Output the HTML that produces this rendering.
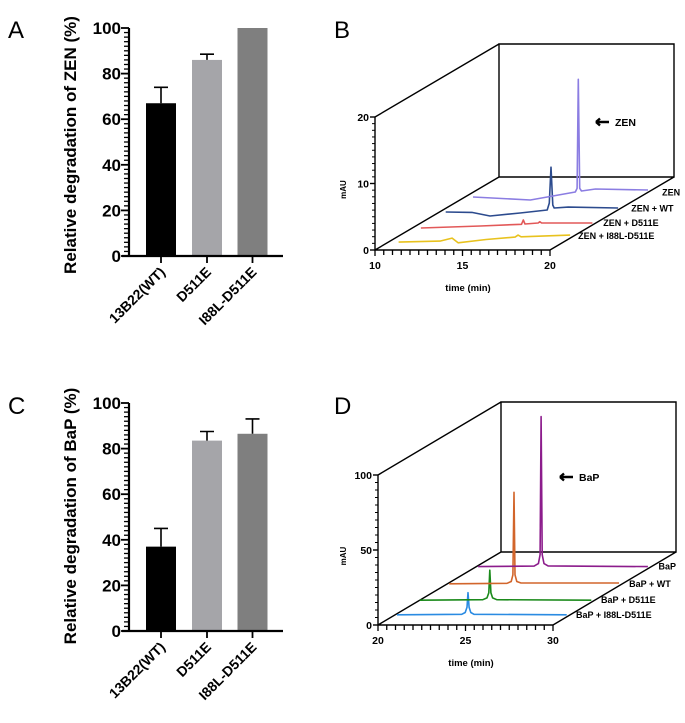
<!DOCTYPE html>
<html><head><meta charset="utf-8"><style>
html,body{margin:0;padding:0;background:#fff;}
svg{display:block;font-family:"Liberation Sans",Arial,sans-serif;}
</style></head><body>
<svg id="fig" width="685" height="723" viewBox="0 0 685 723" xmlns="http://www.w3.org/2000/svg">
<text x="8" y="38" font-size="24">A</text>
<text x="334" y="38" font-size="24">B</text>
<text x="8" y="414" font-size="24">C</text>
<text x="334" y="414" font-size="24">D</text>
</svg>
<script>
// Bar chart data
const catsA = ["13B22(WT)", "D511E", "I88L-D511E"];
const valsA = [67, 86, 100];
const errsA = [7, 2.5, 0];
const catsC = ["13B22(WT)", "D511E", "I88L-D511E"];
const valsC = [37, 83.5, 86.5];
const errsC = [8, 4, 6.5];
const barTicks = [0, 20, 40, 60, 80, 100];

// Chromatogram B data (time in min, value in mAU)
const seriesNamesB = ["ZEN + I88L-D511E", "ZEN + D511E", "ZEN + WT", "ZEN"];
const tYellowB = [10, 12.37, 13.06, 13.4, 15.0, 16.66, 16.83, 17.0, 19.8];
const vYellowB = [-0.9, -0.75, -0.3, -1.0, -0.5, -0.15, 0.15, -0.1, 0.15];
const tRedB = [10, 13.4, 15.75, 15.85, 15.95, 16.7, 16.8, 16.9, 19.8];
const vRedB = [-0.75, -0.45, -0.2, 0.45, -0.15, 0.0, 0.2, 0.0, 0.0];
const tBlueB = [10, 11.5, 12.53, 14.25, 15.8, 15.92, 16.02, 16.12, 16.2, 17.0, 19.85];
const vBlueB = [-0.54, -0.6, -1.14, -0.7, -0.24, 0.8, 6.2, 0.5, 0.06, 0.2, 0.06];
const tPurpleB = [10, 13.28, 15.85, 15.95, 16.02, 16.1, 16.2, 17.0, 20];
const vPurpleB = [-0.7, -1.16, 0.05, 0.6, 17.0, 0.6, 0.2, 0.5, 0.35];

// Chromatogram D data
const seriesNamesD = ["BaP + I88L-D511E", "BaP + D511E", "BaP + WT", "BaP"];
const tBlueD = [20.1, 23.8, 24.0, 24.1, 24.16, 24.22, 24.32, 24.5, 29.8];
const vBlueD = [0, 0.3, 1.5, 5, 14.7, 5, 1.5, 0.3, 0];
const tGreenD = [20, 23.6, 23.84, 23.94, 24.0, 24.06, 24.16, 24.4, 29.8];
const vGreenD = [0, 0.3, 1.5, 5, 20, 5, 1.5, 0.3, 0];
const tOrangeD = [20.1, 23.4, 23.64, 23.74, 23.8, 23.86, 23.96, 24.2, 29.8];
const vOrangeD = [0, 0.3, 1.5, 6, 61, 6, 1.5, 0.5, 0.5];
const tPurpleD = [20.1, 23.3, 23.54, 23.64, 23.7, 23.76, 23.86, 24.1, 29.8];
const vPurpleD = [0, 0.3, 2, 8, 100, 8, 2, 0.5, 0];

const NS = "http://www.w3.org/2000/svg";
const svg = document.getElementById("fig");
function mk(tag, attrs, parent) {
  const e = document.createElementNS(NS, tag);
  for (const k in attrs) e.setAttribute(k, attrs[k]);
  (parent || svg).appendChild(e);
  return e;
}

function barChart(cfg, cats, vals, errs, colors) {
  const g = mk("g", {});
  
  
  const y = v => cfg.y0 - (v / 100) * (cfg.y0 - cfg.y100);
  const ax = 129;
  const centers = [161, 207, 252.5];
  cats.forEach((c, i) => {
    const cx = centers[i];
    const r = mk("rect", {x: cx - 15, y: y(vals[i]), width: 30, height: y(0) - y(vals[i]), fill: colors[i]}, g);
    
    
    if (errs[i] > 0) {
      const e = mk("path", {d: `M${cx} ${y(vals[i])}V${y(vals[i] + errs[i])}M${cx - 7} ${y(vals[i] + errs[i])}H${cx + 7}`, stroke: "#000", "stroke-width": 1.6, fill: "none"}, g);
      
      
    }
    const tk = mk("line", {x1: cx, x2: cx, y1: y(0), y2: y(0) + 7, stroke: "#000", "stroke-width": 1.8}, g);
    
    
    const t = mk("text", {x: 0, y: 0, "font-size": 14, "font-weight": "bold", "text-anchor": "end", transform: `translate(${cx + 5},${y(0) + 17}) rotate(-45)`}, g);
    t.textContent = c;
    
    
  });
  const axl = mk("path", {d: `M${ax} ${y(100)}V${y(0)}M122 ${y(0)}H283`, stroke: "#000", "stroke-width": 2.2, fill: "none"}, g);
  
  
  for (let v = 0; v <= 100; v += 2) {
    const major = v % 20 === 0;
    mk("line", {x1: ax - (major ? 8 : 5), x2: ax, y1: y(v), y2: y(v), stroke: "#000", "stroke-width": major ? 1.8 : 1.3}, g);
  }
  barTicks.forEach(v => {
    const t = mk("text", {x: 121, y: y(v) + 6, "font-size": 17, "font-weight": "bold", "text-anchor": "end"}, g);
    t.textContent = v;
    
    
  });
  const tt = mk("text", {x: 0, y: 0, "font-size": 17, "font-weight": "bold", "text-anchor": "middle", transform: `translate(76,${cfg.titleY}) rotate(-90)`}, g);
  tt.textContent = cfg.title;
  
  
}

barChart({name: "bar-chart-zen", y0: 256, y100: 28, title: "Relative degradation of ZEN (%)", titleY: 145}, catsA, valsA, errsA, ["#000", "#a5a5a9", "#7f7f7f"]);
barChart({name: "bar-chart-bap", y0: 631, y100: 403, title: "Relative degradation of BaP (%)", titleY: 516}, catsC, valsC, errsC, ["#000", "#a5a5a9", "#7f7f7f"]);

function chrom(cfg, series) {
  const g = mk("g", {});
  
  
  const x = t => cfg.x0 + (t - cfg.tmin) / (cfg.tmax - cfg.tmin) * (cfg.x1 - cfg.x0);
  const y = v => cfg.y0 - v / cfg.vmax * (cfg.y0 - cfg.ytop);
  const DX = cfg.dx, DY = cfg.dy;
  const fr = mk("path", {d: `M${cfg.x0} ${cfg.ytop}V${cfg.y0}H${cfg.x1}` +
    `M${cfg.x0} ${cfg.ytop}L${cfg.x0 + DX} ${cfg.ytop - DY}M${cfg.x0} ${cfg.y0}L${cfg.x0 + DX} ${cfg.y0 - DY}M${cfg.x1} ${cfg.y0}L${cfg.x1 + DX} ${cfg.y0 - DY}` +
    `M${cfg.x0 + DX} ${cfg.ytop - DY}H${cfg.x1 + DX}V${cfg.y0 - DY}H${cfg.x0 + DX}Z`, stroke: "#000", "stroke-width": 1.4, fill: "none"}, g);
  
  
  for (let v = 0; v <= cfg.vmax + 1e-9; v += cfg.vminor) {
    const major = Math.abs(v / cfg.vmajor - Math.round(v / cfg.vmajor)) < 1e-6;
    mk("line", {x1: cfg.x0 - (major ? 5 : 3), x2: cfg.x0, y1: y(v), y2: y(v), stroke: "#000", "stroke-width": major ? 1.4 : 1}, g);
    if (major) {
      const t = mk("text", {x: cfg.x0 - 6, y: y(v) + 4, "font-size": 10.5, "font-weight": "bold", "text-anchor": "end"}, g);
      t.textContent = Math.round(v);
      
      
    }
  }
  for (let t = cfg.tmin; t <= cfg.tmax + 1e-9; t += 0.5) {
    const major = Math.abs(t % 5) < 1e-6;
    mk("line", {x1: x(t), x2: x(t), y1: cfg.y0, y2: cfg.y0 + (major ? 6 : 5), stroke: "#000", "stroke-width": 1.3}, g);
    if (major) {
      const l = mk("text", {x: x(t), y: cfg.y0 + 19, "font-size": 10.5, "font-weight": "bold", "text-anchor": "middle"}, g);
      l.textContent = Math.round(t);
      
      
    }
  }
  const xt = mk("text", {x: cfg.x0 + 93, y: cfg.y0 + 41, "font-size": 9.5, "font-weight": "bold", "text-anchor": "middle"}, g);
  xt.textContent = "time (min)";
  
  
  const yt = mk("text", {x: 0, y: 0, "font-size": 8, "font-weight": "bold", "text-anchor": "middle", transform: `translate(346,${(cfg.y0 + cfg.ytop) / 2 + 6}) rotate(-90)`}, g);
  yt.textContent = "mAU";
  
  
  series.forEach(s => {
    const ox = s.k * DX, oy = s.k * DY;
    const d = s.t.map((t, i) => (i ? "L" : "M") + (x(t) + ox).toFixed(1) + " " + (y(s.v[i]) - oy).toFixed(1)).join("");
    const p = mk("path", {d, stroke: s.color, "stroke-width": 1.6, fill: "none", "stroke-linejoin": "round"}, g);
    
    
    const lb = mk("text", {x: x(cfg.tmax) + ox + cfg.lblOff + s.k * cfg.lblK, y: cfg.y0 - oy + 3, "font-size": 9, "font-weight": "bold"}, g);
    lb.textContent = s.label;
    
    
  });
  const ar = mk("path", {d: `M${cfg.ax} ${cfg.ay}h13M${cfg.ax} ${cfg.ay}l4 -3.5M${cfg.ax} ${cfg.ay}l4 3.5`, stroke: "#000", "stroke-width": 2.4, fill: "none"}, g);
  
  
  const at = mk("text", {x: cfg.ax + 19, y: cfg.ay + 4, "font-size": 10.5, "font-weight": "bold"}, g);
  at.textContent = cfg.arrowLabel;
  
  
}

chrom({name: "chromatogram-zen", x0: 375, x1: 550, y0: 250, ytop: 117, tmin: 10, tmax: 20, vmax: 20, vmajor: 10, vminor: 1, dx: 124, dy: 73, ax: 596, ay: 122, arrowLabel: "ZEN", lblOff: 1.5, lblK: 16}, [
  {label: seriesNamesB[0], t: tYellowB, v: vYellowB, color: "#e8c21e", k: 0.19},
  {label: seriesNamesB[1], t: tRedB, v: vRedB, color: "#e25858", k: 0.37},
  {label: seriesNamesB[2], t: tBlueB, v: vBlueB, color: "#2c4b8e", k: 0.57},
  {label: seriesNamesB[3], t: tPurpleB, v: vPurpleB, color: "#8b7de2", k: 0.79}
]);
chrom({name: "chromatogram-bap", x0: 378, x1: 553, y0: 625, ytop: 475, tmin: 20, tmax: 30, vmax: 100, vmajor: 50, vminor: 5, dx: 123, dy: 73, ax: 560, ay: 477, arrowLabel: "BaP", lblOff: 5.5, lblK: 2}, [
  {label: seriesNamesD[0], t: tBlueD, v: vBlueD, color: "#2a8be2", k: 0.14},
  {label: seriesNamesD[1], t: tGreenD, v: vGreenD, color: "#1b8a1b", k: 0.34},
  {label: seriesNamesD[2], t: tOrangeD, v: vOrangeD, color: "#d2652b", k: 0.565},
  {label: seriesNamesD[3], t: tPurpleD, v: vPurpleD, color: "#8c1c8c", k: 0.8}
]);
</script>
</body></html>
